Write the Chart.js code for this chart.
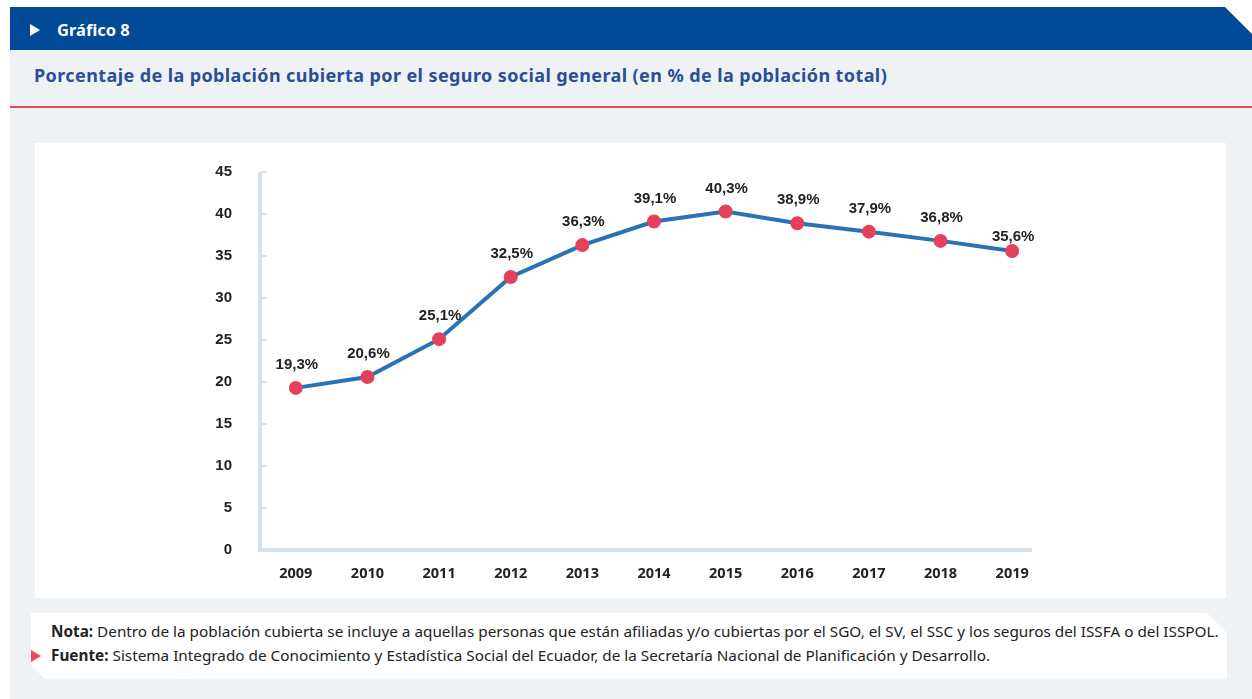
<!DOCTYPE html>
<html lang="es">
<head>
<meta charset="utf-8">
<script src="https://cdn.jsdelivr.net/npm/chart.js@4/dist/chart.umd.min.js"></script>
<style>
  html, body { margin: 0; padding: 0; background: #fff; }
  body { width: 1252px; height: 699px; position: relative; overflow: hidden; font-family: "Noto Sans", sans-serif; }
  #bg { position: absolute; left: 10px; top: 50px; width: 1242px; height: 649px; background: #eff2f5; }
  #head {
    position: absolute; left: 10px; top: 7px; width: 1242px; height: 43px; background: #004a98;
    clip-path: polygon(0 0, 1215px 0, 1242px 27px, 1242px 43px, 0 43px);
  }
  #head .tri { position: absolute; left: 20px; top: 17px; width: 0; height: 0;
    border-top: 6px solid transparent; border-bottom: 6px solid transparent; border-left: 10px solid #fff; }
  #head .lbl { position: absolute; left: 47px; top: 11px; color: #fff; font: bold 16.5px "Noto Sans", sans-serif; }
  #title { position: absolute; left: 34px; top: 63px; color: #2b4e97; font: bold 18px "Noto Sans", sans-serif; letter-spacing: 0.4px; white-space: nowrap; }
  #rule { position: absolute; left: 10px; top: 106px; width: 1242px; height: 2px; background: #e8495f; }
  #panel { position: absolute; left: 35px; top: 143px; width: 1191px; height: 455px; background: #fff; }
  #panel canvas { position: absolute; left: 0; top: 0; }
  #note {
    position: absolute; left: 31px; top: 613px; width: 1196px; height: 66px; background: #fff;
    clip-path: polygon(0 0, 1176px 0, 1196px 20px, 1196px 66px, 14px 66px, 0 52px);
  }
  .ln { position: absolute; left: 20px; font-size: 15.3px; color: #222; white-space: nowrap; }
  .ln b { font-weight: bold; }
  #ftri { position: absolute; left: 31px; top: 650px; width: 0; height: 0;
    border-top: 6px solid transparent; border-bottom: 6px solid transparent; border-left: 10px solid #e8495f; }
</style>
</head>
<body>
<div id="bg"></div>
<div id="head"><div class="tri"></div><div class="lbl">Gráfico 8</div></div>
<div id="title">Porcentaje de la población cubierta por el seguro social general (en % de la población total)</div>
<div id="rule"></div>
<div id="panel"><canvas id="myChart" width="1191" height="455"></canvas></div>
<div id="note">
  <div class="ln" style="top:8px"><b>Nota:</b> Dentro de la población cubierta se incluye a aquellas personas que están afiliadas y/o cubiertas por el SGO, el SV, el SSC y los seguros del ISSFA o del ISSPOL.</div>
  <div class="ln" style="top:32px"><b>Fuente:</b> Sistema Integrado de Conocimiento y Estadística Social del Ecuador, de la Secretaría Nacional de Planificación y Desarrollo.</div>
</div>
<div id="ftri"></div>
<script>
var years = ['2009', '2010', '2011', '2012', '2013', '2014', '2015', '2016', '2017', '2018', '2019'];
var coverage = [19.3, 20.6, 25.1, 32.5, 36.3, 39.1, 40.3, 38.9, 37.9, 36.8, 35.6];
var yTicks = [0, 5, 10, 15, 20, 25, 30, 35, 40, 45];

var axisColor = '#d6e2ec';

// axis lines and small tick marks on the inside of the y axis
var axesPlugin = {
  id: 'axes',
  beforeDatasetsDraw: function (chart) {
    var c = chart.ctx, a = chart.chartArea;
    var y = chart.scales.y;
    c.save();
    c.strokeStyle = axisColor;
    c.lineWidth = 4;
    c.beginPath();
    c.moveTo(a.left, y.getPixelForValue(45));
    c.lineTo(a.left, a.bottom);
    c.lineTo(a.right - 16, a.bottom);
    c.stroke();
    c.lineWidth = 2;
    yTicks.forEach(function (v) {
      if (v === 0) return;
      var py = Math.round(y.getPixelForValue(v));
      c.beginPath();
      c.moveTo(a.left, py);
      c.lineTo(a.left + 7, py);
      c.stroke();
    });
    c.restore();
  }
};

// value labels above each point (the last one sits lower, clear of the line)
var labelsPlugin = {
  id: 'valueLabels',
  afterDatasetsDraw: function (chart) {
    var c = chart.ctx;
    var meta = chart.getDatasetMeta(0);
    c.save();
    c.font = 'bold 15px "Liberation Sans", Arial, sans-serif';
    c.fillStyle = '#222';
    c.textAlign = 'center';
    c.textBaseline = 'middle';
    meta.data.forEach(function (pt, i) {
      var dy = i === meta.data.length - 1 ? 14 : 23;
      c.fillText(coverage[i].toFixed(1).replace('.', ',') + '%', pt.x + 1, pt.y - dy);
    });
    c.restore();
  }
};

var ctx = document.getElementById('myChart').getContext('2d');
var chart = new Chart(ctx, {
  type: 'line',
  data: {
    labels: years,
    datasets: [{
      data: coverage,
      borderColor: '#2a72b8',
      borderWidth: 4,
      pointBackgroundColor: '#e5405a',
      pointBorderColor: '#e5405a',
      pointRadius: 5,
      tension: 0
    }]
  },
  options: {
    responsive: false,
    animation: false,
    layout: { padding: { top: 23, right: 178, left: 0, bottom: 0 } },
    plugins: { legend: { display: false }, tooltip: { enabled: false } },
    scales: {
      x: {
        offset: true,
        grid: { display: false },
        border: { display: false },
        ticks: {
          padding: 7,
          color: '#222',
          font: { family: '"Open Sans", sans-serif', weight: 'bold', size: 14.5 }
        },
        afterFit: function (s) { s.height = 48; }
      },
      y: {
        min: 0,
        max: 45,
        grid: { display: false },
        border: { display: false },
        afterBuildTicks: function (s) { s.ticks = yTicks.map(function (v) { return { value: v }; }); },
        ticks: {
          padding: 20,
          color: '#222',
          font: { family: '"Liberation Sans", Arial, sans-serif', weight: 'bold', size: 15 }
        },
        afterFit: function (s) { s.width = 225; }
      }
    }
  },
  plugins: [axesPlugin, labelsPlugin]
});
</script>
</body>
</html>
